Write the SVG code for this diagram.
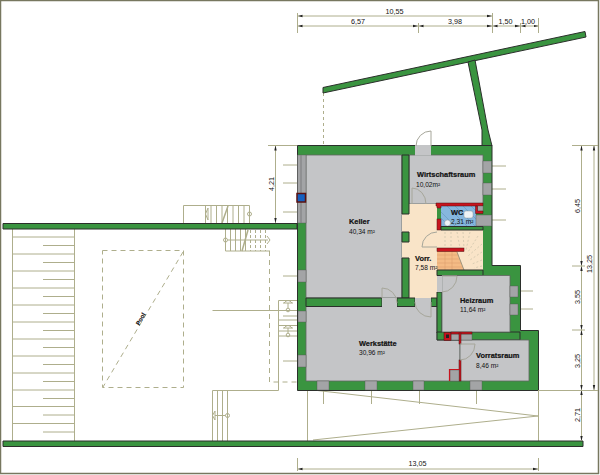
<svg xmlns="http://www.w3.org/2000/svg" width="600" height="475" viewBox="0 0 600 475">
<style>
text{font-family:"Liberation Sans",Arial,sans-serif;font-size:6.600px;fill:#111}
.b{font-weight:bold;font-size:7.400px}
.v{stroke:#111;stroke-width:.2px}
.m{font-size:7.200px}
.l{fill:none;stroke:#aeae8c;stroke-width:1}
.d{fill:none;stroke:#aeae8c;stroke-width:1;stroke-dasharray:5 4}
.w{fill:#3a9440;stroke:#2b2f2b;stroke-width:1}
.r{fill:#c4c5c7;stroke:#5f6460;stroke-width:.8}
.g{fill:#a3a4a6;stroke:#555;stroke-width:.4}
.s{fill:none;stroke:#a6a69a;stroke-width:1}
.red{fill:#c8141e;stroke:#4a1010;stroke-width:.5}
.dim{fill:none;stroke:#aeae8c;stroke-width:1;marker-start:url(#a);marker-end:url(#b)}
.t{fill:none;stroke:#cfc5ac;stroke-width:.8;stroke-dasharray:2 2}
</style>
<defs>
<marker id="a" markerUnits="userSpaceOnUse" markerWidth="6" markerHeight="4" refX="0" refY="2" orient="auto"><path d="M0 2L5 .8V3.2Z" fill="#222"/></marker>
<marker id="b" markerUnits="userSpaceOnUse" markerWidth="6" markerHeight="4" refX="5" refY="2" orient="auto"><path d="M5 2L0 .8V3.2Z" fill="#222"/></marker>
</defs>
<rect x="0.500" y="0.500" width="598" height="473" fill="#fff" stroke="#77775f" stroke-width="1.500"/>

<g id="garden-lines">
<path class="l" d="M12.500 229V441M74.500 229V441"/>
<path class="l" d="M12 237H75M43 245.500H75M12 254H75M43 262.500H75M12 271H75M43 279.500H75M12 288H75M43 296.500H75M12 305H75M43 313.500H75M12 322H75M43 330.500H75M12 339H75M43 347.500H75M12 356H75M43 364.500H75M12 373H75M43 381.500H75M12 390H75M43 398.500H75M12 406.500H75M43 415H75M12 423.500H75M43 432H75"/>
<path class="d" d="M102.500 250.500H183.500V387.500H102.500Z"/>
<path class="d" d="M183 252L103 387"/>
<path class="l" d="M183.500 223V205.500H249.500V223"/>
<path class="l" d="M205.500 206V223M211 206V223M216.500 206V223M222 206V223M227.500 206V223M233 206V223M238.500 206V223M244 206V223"/>
<path class="l" d="M222 223L228 206" style="stroke-width:1.500"/>
<circle class="l" cx="249.500" cy="214" r="2"/>
<path class="l" d="M208 208L205.500 214L208 220Z"/>
<path class="l" d="M225.500 229V251H270M230.500 229V251M235.500 229V251M240.500 229V251M245.500 229V251"/>
<path class="l" d="M242 251L248 230" style="stroke-width:1.500"/>
<circle class="l" cx="225.500" cy="240" r="2"/>
<path class="d" d="M250.500 230V251M255.500 230V251M260.500 230V251M265.500 230V251" style="stroke-dasharray:3 2"/>
<path class="l" d="M228 240H268M267 236L270 240L267 244"/>
<path class="d" d="M269.500 251V382H297"/>
<path class="l" d="M212.500 441V390.500H278.500V300.500H297M212.500 310.500H297M278.500 325.500H297M278.500 331H297"/>
<path class="l" d="M217.500 390.500V441M222.500 390.500V441M227.500 390.500V441"/>
<circle class="l" cx="227.500" cy="415.500" r="2"/>
<path class="l" d="M215 415.500H225.500M215 411L212.500 415.500L215 420Z"/>
<path class="l" d="M283 303H293M288 303V308M284 303Q288 298 292 303"/>
<circle class="l" cx="288" cy="310" r="1.800"/>
<path class="l" d="M283 328H293M288 328V333M284 328Q288 323 292 328"/>
<circle class="l" cx="288" cy="335" r="1.800"/>
<path class="l" d="M283 165H297M283 183H297M283 212H297M283 276H297M283 316H297M283 361H297M279 320H297M279 336H297"/>
<path class="l" d="M492 166H506M492 189H506M492 220H506M518 291H533M518 309H533"/>
<path class="l" d="M307.500 390V441M323.500 390V404M371.500 390V404M419.500 390V404M476.500 390V404M538.500 390V441"/>
<path class="l" d="M313 390L538 416L313 440"/>
<path class="d" d="M323.500 93V145" style="stroke-dasharray:3 3"/>
</g>

<g id="pool-label"><text class="v" transform="translate(142.500 320) rotate(-60)" text-anchor="middle" style="font-size:6px;font-weight:bold">Pool</text></g>

<g id="walls">
<path class="w" d="M3 223.500H297V229H3Z"/>
<path class="w" d="M3 441H583V446.500H3Z"/>
<path class="w" d="M323 87.500L585 31.500L586 37L323 93Z"/>
<path class="w" d="M468 62L475 60L488 130L492 146H482V130Z"/>
<path class="w" d="M297.500 145.500H492V265.500H520.500V330.500H538.500V390.500H297.500Z"/>
</g>

<g id="Keller"><path class="r" d="M306 155H402V298H306Z"/><text class="b v" x="349" y="224">Keller</text><text x="349" y="233.500">40,34 m²</text></g>
<g id="Werkstaette"><path class="r" d="M306 306.500H437V340H460V381H306Z"/><text class="b v" x="359" y="346">Werkstätte</text><text x="359" y="355">30,96 m²</text></g>
<g id="Wirtschaftsraum"><path class="r" d="M409 155H483V204H409Z"/><text class="b v" x="417" y="177">Wirtschaftsraum</text><text x="416" y="186.500">10,02m²</text></g>
<g id="Vorr"><path d="M402 204H437V230H483V270H437V306H402Z" fill="#f9e4c8"/>
<path d="M437 251H457L464 270H437Z" fill="#f4bb85"/>
<path d="M437 255H458M437 259H459.500M437 263H461M437 267H463M445 251V270M452 251V270" stroke="#d99b6b" stroke-width=".5"/>
<path d="M457 252L464 270" stroke="#8a8a78" stroke-width=".8"/>
<path class="t" d="M445 232V248M451 232V248M457 232L460 248M463 232L464 248M470 232L466 250M478 236L468 252M482 244L468 256M482 252L470 260M482 260L472 264M482 266L474 268"/>
<rect class="red" x="437" y="248" width="27" height="3.500"/>
<text class="b v" x="415" y="260.500">Vorr.</text><text x="415" y="269.500">7,58 m²</text></g>
<g id="wall-pads">
<path class="w" d="M402 155H409V214H402Z"/>
<path class="w" d="M402 232H409V242H402Z"/>
<path class="w" d="M402 258H409V298H402Z"/>
<path class="w" d="M306 298H382V306.500H306Z"/>
<path class="w" d="M397 298H415V306.500H397Z"/>
<path class="w" d="M431 298H437V306.500H431Z"/>
<path class="w" d="M437 270H483V275.500H437Z"/>
<path class="w" d="M437 292H442V333H437Z"/>
<path class="w" d="M437 332H520V340H437Z"/>
</g>
<g id="WC"><rect x="441" y="206" width="35" height="20" fill="#86b7de"/>
<path d="M441 212L455 226M441 218L449 226M447 206L467 226M455 206L475 226M463 206L476 219M471 206L476 211" stroke="#5f8fb8" stroke-width=".5"/>
<rect x="464" y="211" width="9" height="7" rx="2" fill="#eef3f6" stroke="#888" stroke-width=".4"/>
<circle cx="447.500" cy="223" r="3" fill="#eef3f6" stroke="#888" stroke-width=".4"/>
<path class="red" d="M436 203H483V206H441V208H437V206H436Z"/>
<rect class="red" x="437" y="219" width="4" height="11"/>
<rect class="g" x="477" y="206" width="6" height="6"/>
<path class="red" d="M475.500 206H477.500V211H483V213.500H475.500Z"/>
<path class="w" d="M441 226.500H483V230H441Z"/>
<text class="b v" x="451" y="214.500">WC</text><text x="451" y="224">2,31 m²</text></g>
<g id="Heizraum"><path class="r" d="M442 275.500H510V332H442Z"/><text class="b v" x="460" y="303">Heizraum</text><text x="460" y="312">11,64 m²</text></g>
<g id="Vorratsraum"><path class="r" d="M460 340H529V381H460Z"/><text class="b v" x="476" y="358">Vorratsraum</text><text x="476" y="368">8,46 m²</text></g>

<g id="windows">
<rect class="g" x="297.500" y="155" width="8.500" height="68"/>
<path d="M301 155V223" stroke="#7c7d7f" stroke-width="1"/>
<rect x="297" y="193.500" width="8.500" height="8.500" fill="#1560c0" stroke="#5a1010" stroke-width="1.500"/>
<rect class="g" x="298" y="270" width="8" height="12"/><rect class="g" x="298" y="311" width="8" height="11"/><rect class="g" x="298" y="355" width="8" height="12"/>
<rect class="g" x="317" y="381" width="12" height="9"/><rect class="g" x="365" y="381" width="12" height="9"/><rect class="g" x="413" y="381" width="11" height="9"/><rect class="g" x="470" y="381" width="12" height="9"/>
<rect class="g" x="483" y="161" width="8.500" height="12"/><rect class="g" x="483" y="183" width="8.500" height="12"/><rect class="g" x="476" y="215" width="15.500" height="11"/>
<rect class="g" x="510" y="286" width="8" height="11"/><rect class="g" x="510" y="304" width="8" height="11"/>
<rect class="g" x="451" y="334" width="21" height="6"/>
<rect class="red" x="444" y="332.500" width="7" height="8"/><rect x="446" y="334.500" width="3" height="3.500" fill="#222"/>
<rect class="red" x="451" y="332" width="21" height="2"/>
<rect class="red" x="459" y="333" width="2" height="11"/>
<rect class="red" x="459" y="360" width="2" height="21"/>
<rect class="g" x="450" y="370" width="9" height="11"/>
<path d="M449.500 381V369.500H459" fill="none" stroke="#c8141e" stroke-width="1.200"/>
<rect x="415" y="145" width="16" height="10.500" fill="#c4c5c7"/>
<rect x="382" y="298" width="15" height="9" fill="#c4c5c7"/>
<rect x="415" y="298" width="16" height="9" fill="#c4c5c7"/>
<rect x="437" y="276" width="5.500" height="16" fill="#c4c5c7"/>
</g>

<g id="doors">
<path class="s" d="M431 146V131A15 15 0 0 0 416 146"/>
<path class="s" d="M412 204V188A14 16 0 0 1 426 204"/>
<path class="s" d="M437 247H422A15 15 0 0 1 437 232"/>
<path class="s" d="M442 276H457A15 16 0 0 1 442 292"/>
<path class="s" d="M382 298V288A15 15 0 0 1 397 303"/>
<path class="s" d="M431 302V317A16 15 0 0 1 415 302"/>
<path class="s" d="M460 344H475A15 16 0 0 1 460 360"/>
</g>

<g id="dimensions">
<path class="dim" d="M297.500 16H492"/>
<path class="dim" d="M297.500 26H418"/><path class="dim" d="M418.500 26H492"/><path class="dim" d="M492.500 26H520"/><path class="dim" d="M520.500 26H538.500"/>
<path class="l" d="M297.500 13V33M418.500 23V33M492.500 13V33M520.500 23V33M538.500 18V33"/>
<g class="dt"><text class="m" x="394.500" y="14" text-anchor="middle">10,55</text><text class="m" x="358" y="24" text-anchor="middle">6,57</text><text class="m" x="455" y="24" text-anchor="middle">3,98</text><text class="m" x="505.500" y="24" text-anchor="middle">1,50</text><text class="m" x="528" y="24" text-anchor="middle">1,00</text></g>
<path class="dim" d="M297.500 469H538"/><path class="l" d="M297.500 458V471M538.500 458V471"/><text class="m" x="417.500" y="466" text-anchor="middle">13,05</text>
<path class="dim" d="M275.500 145.500V223"/><path class="l" d="M268 145.500H297"/>
<text class="m" transform="translate(273.500 184) rotate(-90)" text-anchor="middle">4,21</text>
<path class="dim" d="M581.500 145.500V266"/><path class="dim" d="M581.500 266V330"/><path class="dim" d="M581.500 330V390"/><path class="dim" d="M581.500 390V441"/><path class="dim" d="M594 145.500V390"/>
<path class="l" d="M572 145.500H598M572 266H585M572 330H585M538 390.500H598"/>
<text class="m" transform="translate(579.500 206) rotate(-90)" text-anchor="middle">6,45</text>
<text class="m" transform="translate(592 264) rotate(-90)" text-anchor="middle">13,25</text>
<text class="m" transform="translate(579.500 297) rotate(-90)" text-anchor="middle">3,55</text>
<text class="m" transform="translate(579.500 361) rotate(-90)" text-anchor="middle">3,25</text>
<text class="m" transform="translate(579.500 415) rotate(-90)" text-anchor="middle">2,71</text>
</g>
</svg>
